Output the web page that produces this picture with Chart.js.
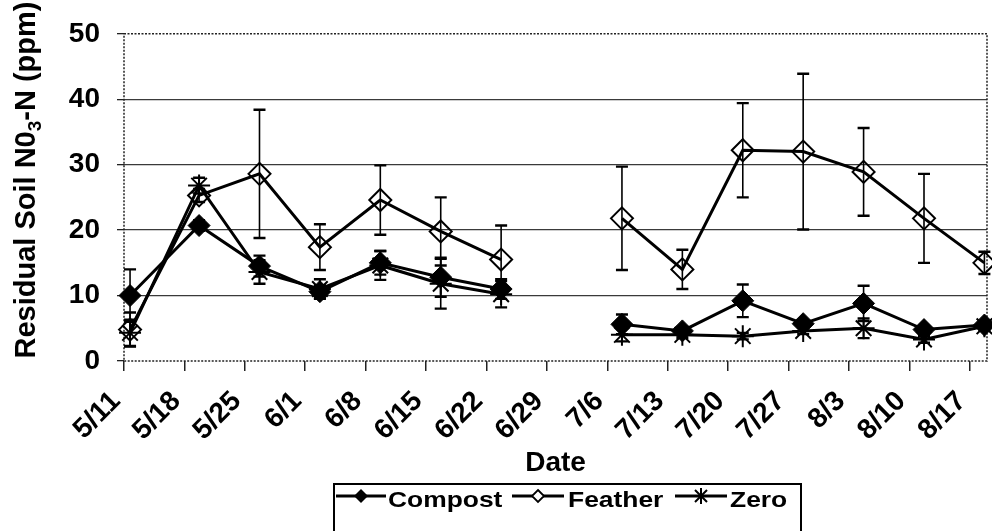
<!DOCTYPE html>
<html>
<head>
<meta charset="utf-8">
<title>Residual soil nitrate</title>
<script src="https://cdn.jsdelivr.net/npm/chart.js@4/dist/chart.umd.min.js"></script>
<style>
  html, body { margin: 0; padding: 0; background: #fff; }
  #wrap { position: relative; width: 992px; height: 531px; overflow: hidden; }
  #soilChart { position: absolute; left: 0; top: 0; }
  .legend {
    position: absolute; left: 333px; top: 483px; width: 469px; height: 60px;
    border: 2px solid #000; box-sizing: border-box;
    font-family: "Liberation Sans", Arial, sans-serif; font-weight: bold; font-size: 22px; color: #000;
  }
  .legend svg { position: absolute; top: 0; }
  .legend span { position: absolute; top: 4px; line-height: 22px; transform: scaleX(1.2); transform-origin: left center; white-space: nowrap; }
</style>
</head>
<body>
<div id="wrap">
  <canvas id="soilChart" width="992" height="531"></canvas>
  <div class="legend">
    <svg style="left:1px" width="50" height="22">
      <line x1="0" y1="11" x2="50" y2="11" stroke="#000" stroke-width="3"/>
      <polygon points="25,4 32,11 25,18 18,11" fill="#000"/>
    </svg>
    <span style="left:53px">Compost</span>
    <svg style="left:177px" width="52" height="22">
      <line x1="0" y1="11" x2="52" y2="11" stroke="#000" stroke-width="3"/>
      <polygon points="26,5 32,11 26,17 20,11" fill="#fff" stroke="#000" stroke-width="1.8"/>
    </svg>
    <span style="left:233px">Feather</span>
    <svg style="left:340px" width="52" height="22">
      <line x1="0" y1="11" x2="52" y2="11" stroke="#000" stroke-width="3"/>
      <path d="M26 3 V19 M20 5 L32 17 M32 5 L20 17" stroke="#000" stroke-width="2"/>
    </svg>
    <span style="left:395px">Zero</span>
  </div>
</div>
<script>
// ── Sampling dates, axis labels and measured NO3-N (ppm) ±1 SE ──────────────
const sampleDates = ["5/11", "5/19", "5/26", "6/2", "6/9", "6/16", "6/23", "7/7", "7/14", "7/21", "7/28", "8/4", "8/11", "8/18"];
const tickLabels = ["5/11", "5/18", "5/25", "6/1", "6/8", "6/15", "6/22", "6/29", "7/6", "7/13", "7/20", "7/27", "8/3", "8/10", "8/17"];
const yTicks = [0, 10, 20, 30, 40, 50];

const compost = [10.0, 20.7, 14.5, 10.6, 15.0, 12.8, 11.0, 5.6, 4.6, 9.2, 5.7, 8.8, 4.8, 5.5];
const compostErr = [4.0, 0.8, 1.6, 1.0, 1.8, 3.0, 1.5, 1.5, 0.6, 2.5, 0.5, 2.7, 0.5, 0.6];
const feather = [4.8, 25.3, 28.6, 17.4, 24.6, 19.8, 15.5, 21.8, 14.0, 32.2, 32.0, 28.9, 21.8, 15.0];
const featherErr = [2.6, 1.0, 9.8, 3.5, 5.3, 5.2, 5.2, 7.9, 3.0, 7.2, 11.9, 6.7, 6.8, 1.7];
const zero = [4.3, 26.8, 13.6, 11.0, 14.6, 11.8, 10.2, 4.0, 4.0, 3.8, 4.6, 5.0, 3.3, 5.3];
const zeroErr = [2.0, 1.2, 1.8, 1.5, 2.2, 3.8, 2.0, 1.0, 0.5, 0.5, 0.5, 1.5, 0.5, 0.6];

const FONT = '"Liberation Sans", Arial, sans-serif';
const SLOT_SHIFT = 0.7; // points sit inside their day slot, just right of the tick

// days since 5/11
const dayOf = (md) => {
  const [m, d] = md.split("/").map(Number);
  return (Date.UTC(2000, m - 1, d) - Date.UTC(2000, 4, 11)) / 864e5;
};

const toPoints = (vals) => vals.map((v, i) => ({ x: dayOf(sampleDates[i]) + SLOT_SHIFT, y: v }));

// no line across the gap between 6/23 and 7/7
const gapSegment = {
  borderColor: (c) => (c.p1.parsed.x - c.p0.parsed.x > 10 ? "rgba(0,0,0,0)" : undefined),
};

const datasets = [
  {
    label: "Compost", data: toPoints(compost), errors: compostErr,
    pointStyle: "rectRot", pointRadius: 11, pointBackgroundColor: "#000", pointBorderColor: "#000", pointBorderWidth: 1,
  },
  {
    label: "Feather", data: toPoints(feather), errors: featherErr,
    pointStyle: "rectRot", pointRadius: 11, pointBackgroundColor: "rgba(0,0,0,0)", pointBorderColor: "#000", pointBorderWidth: 2,
  },
  {
    label: "Zero", data: toPoints(zero), errors: zeroErr,
    pointStyle: "star", pointRadius: 11, pointBorderColor: "#000", pointBorderWidth: 2,
  },
].map((d) => ({ ...d, borderColor: "#000", borderWidth: 3, tension: 0, fill: false, clip: false, segment: gapSegment }));

// ── Error bars (±SE) ────────────────────────────────────────────────────────
const errorBars = {
  id: "errorBars",
  afterDatasetsDraw(chart) {
    const { ctx, scales: { x, y } } = chart;
    ctx.save();
    ctx.strokeStyle = "#000";
    chart.data.datasets.forEach((ds) => {
      ds.errors.forEach((e, j) => {
        const p = ds.data[j];
        const px = x.getPixelForValue(p.x);
        const top = y.getPixelForValue(p.y + e);
        const bot = y.getPixelForValue(Math.max(p.y - e, 0));
        ctx.lineWidth = 1.6;
        ctx.beginPath();
        ctx.moveTo(px, top);
        ctx.lineTo(px, bot);
        ctx.stroke();
        ctx.lineWidth = 2.4;
        ctx.beginPath();
        ctx.moveTo(px - 6, top);
        ctx.lineTo(px + 6, top);
        ctx.moveTo(px - 6, bot);
        ctx.lineTo(px + 6, bot);
        ctx.stroke();
      });
    });
    ctx.restore();
  },
};

// ── Dotted plot frame ───────────────────────────────────────────────────────
const plotFrame = {
  id: "plotFrame",
  beforeDatasetsDraw(chart) {
    const { ctx, chartArea: a } = chart;
    ctx.save();
    ctx.strokeStyle = "#222";
    ctx.lineWidth = 1.5;
    ctx.setLineDash([2, 1.5]);
    ctx.strokeRect(a.left, a.top, a.right - a.left, a.bottom - a.top);
    ctx.restore();
  },
};

// ── Y axis title with subscript ─────────────────────────────────────────────
const yTitle = {
  id: "yTitle",
  afterDraw(chart) {
    const { ctx } = chart;
    const parts = [
      { t: "Residual Soil N0", size: 29, dy: 0 },
      { t: "3", size: 19, dy: 6 },
      { t: "-N (ppm)", size: 29, dy: 0 },
    ];
    ctx.save();
    ctx.translate(25, 180);
    ctx.rotate(-Math.PI / 2);
    ctx.fillStyle = "#000";
    ctx.textBaseline = "alphabetic";
    ctx.textAlign = "left";
    const widths = parts.map((p) => {
      ctx.font = `bold ${p.size}px ${FONT}`;
      return ctx.measureText(p.t).width;
    });
    let cx = -widths.reduce((s, w) => s + w, 0) / 2;
    parts.forEach((p, i) => {
      ctx.font = `bold ${p.size}px ${FONT}`;
      ctx.fillText(p.t, cx, 10 + p.dy);
      cx += widths[i];
    });
    ctx.restore();
  },
};

const tickFont = { family: FONT, size: 28, weight: "bold" };

new Chart(document.getElementById("soilChart"), {
  type: "line",
  data: { datasets },
  plugins: [plotFrame, errorBars, yTitle],
  options: {
    responsive: false,
    animation: false,
    layout: { autoPadding: false, padding: { top: 31, right: 5, left: 0, bottom: 0 } },
    plugins: { legend: { display: false }, tooltip: { enabled: false } },
    scales: {
      x: {
        type: "linear",
        min: 0,
        max: 100,
        afterBuildTicks: (s) => { s.ticks = tickLabels.map((l) => ({ value: dayOf(l) })); },
        afterFit: (s) => {
          s.height = 170;
          s.paddingLeft = 0;
          s.paddingRight = 0;
        },
        grid: { drawOnChartArea: false, drawTicks: true, tickLength: 10, color: "#222", lineWidth: 1.5 },
        border: { display: false },
        ticks: {
          autoSkip: false, minRotation: 45, maxRotation: 45, padding: 14, labelOffset: -8,
          color: "#000", font: tickFont,
          callback: (v, i) => tickLabels[i],
        },
        title: {
          display: true, text: "Date", color: "#000",
          font: { family: FONT, size: 28, weight: "bold" },
          padding: { top: 0, bottom: 51 },
        },
      },
      y: {
        min: 0,
        max: 50,
        afterBuildTicks: (s) => { s.ticks = yTicks.map((v) => ({ value: v })); },
        afterFit: (s) => { s.width = 124; },
        grid: {
          color: (c) => (c.tick.value === 0 || c.tick.value === 50 ? "rgba(0,0,0,0)" : "#3a3a3a"),
          tickColor: "#222",
          lineWidth: 1.3,
          tickLength: 7,
        },
        border: { display: false },
        ticks: { padding: 17, color: "#000", font: tickFont },
      },
    },
  },
});
</script>
</body>
</html>
